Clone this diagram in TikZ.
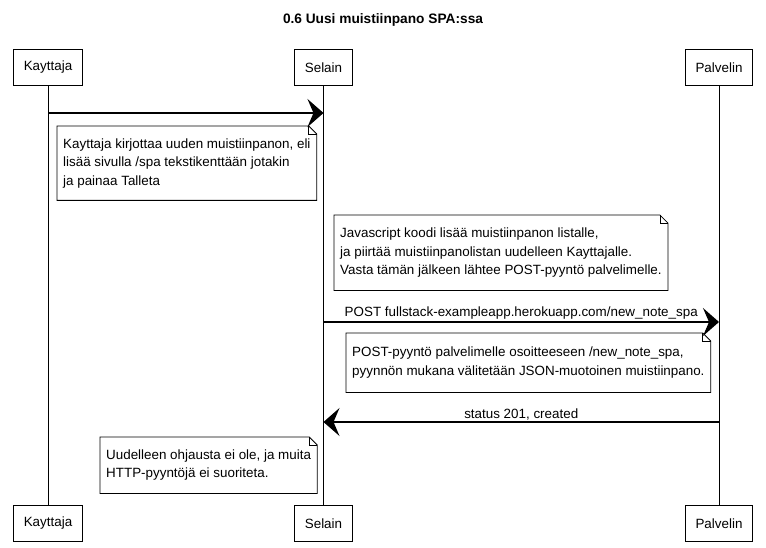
\documentclass[tikz,border=0pt]{standalone}
\usepackage{fontspec}
\setmainfont{Liberation Sans}
\usetikzlibrary{arrows.meta}

% muistilapun kehys, taitettu kulma oikealla ylhaalla
\newcommand{\lappu}[1]{%
	\draw[line width=0.8pt] (#1.north west) -- ([xshift=-8pt]#1.north east) -- ([yshift=-8pt]#1.north east) -- (#1.south east) -- (#1.south west) -- cycle;
	\draw[line width=0.8pt] ([xshift=-8pt]#1.north east) |- ([yshift=-8pt]#1.north east);
}

\begin{document}
\begin{tikzpicture}[x=1pt,y=-1pt,
		every node/.style={font=\fontsize{13.4}{18.5}\selectfont},
		osallinen/.style={draw,line width=0.8pt,inner xsep=10pt,inner ysep=0pt,minimum height=36pt},
		muistiinpano/.style={anchor=north west,align=left,inner xsep=6pt,inner ysep=0pt},
		viesti/.style={line width=1.2pt,-{Stealth[length=16pt,width=28pt,inset=6pt]}}]
		\useasboundingbox (0,0) rectangle (766,548);
		
		\node[font=\bfseries\fontsize{13.7}{16}\selectfont] (otsikko) at (383,20) {0.6 Uusi muistiinpano SPA:ssa};
		
		% osallistujat ylhaalla ja alhaalla
		\node[osallinen] (kayttaja) at (48,67.5) {Kayttaja};
		\node[osallinen] (selain) at (323.5,67.5) {Selain};
		\node[osallinen] (palvelin) at (719,67.5) {Palvelin};
		\node[osallinen] (kayttaja2) at (48,523.5) {Kayttaja};
		\node[osallinen] (selain2) at (323.5,523.5) {Selain};
		\node[osallinen] (palvelin2) at (719,523.5) {Palvelin};
		
		\draw[line width=0.8pt] (kayttaja.south) to (kayttaja2.north);
		\draw[line width=0.8pt] (selain.south) to (selain2.north);
		\draw[line width=0.8pt] (palvelin.south) to (palvelin2.north);
		
		% viesti 1
		\coordinate (v1a) at (kayttaja |- 0,113);
		\coordinate (v1b) at (selain |- 0,113);
		\draw[viesti] (v1a) to (v1b);
		
		\node[muistiinpano,minimum height=74pt] (lappu1) at (57,126) {Kayttaja kirjottaa uuden muistiinpanon, eli\\lisää sivulla /spa tekstikenttään jotakin\\ja painaa Talleta};
		\lappu{lappu1}
		
		\node[muistiinpano,minimum height=75pt] (lappu2) at (334,215) {Javascript koodi lisää muistiinpanon listalle,\\ja piirtää muistiinpanolistan uudelleen Kayttajalle.\\Vasta tämän jälkeen lähtee POST-pyyntö palvelimelle.};
		\lappu{lappu2}
		
		% viesti 2
		\coordinate (v2a) at (selain |- 0,322);
		\coordinate (v2b) at (palvelin |- 0,322);
		\draw[viesti] (v2a) to node[midway,anchor=south,inner sep=2pt]{POST fullstack-exampleapp.herokuapp.com/new\_note\_spa} (v2b);
		
		\node[muistiinpano,minimum height=59pt] (lappu3) at (346,333) {POST-pyyntö palvelimelle osoitteeseen /new\_note\_spa,\\pyynnön mukana välitetään JSON-muotoinen muistiinpano.};
		\lappu{lappu3}
		
		% viesti 3
		\coordinate (v3a) at (palvelin |- 0,422);
		\coordinate (v3b) at (selain |- 0,422);
		\draw[viesti] (v3a) to node[midway,anchor=south,inner sep=1pt]{status 201, created} (v3b);
		
		\node[muistiinpano,minimum height=56pt] (lappu4) at (100,437) {Uudelleen ohjausta ei ole, ja muita\\HTTP-pyyntöjä ei suoriteta.};
		\lappu{lappu4}
	\end{tikzpicture}
\end{document}
